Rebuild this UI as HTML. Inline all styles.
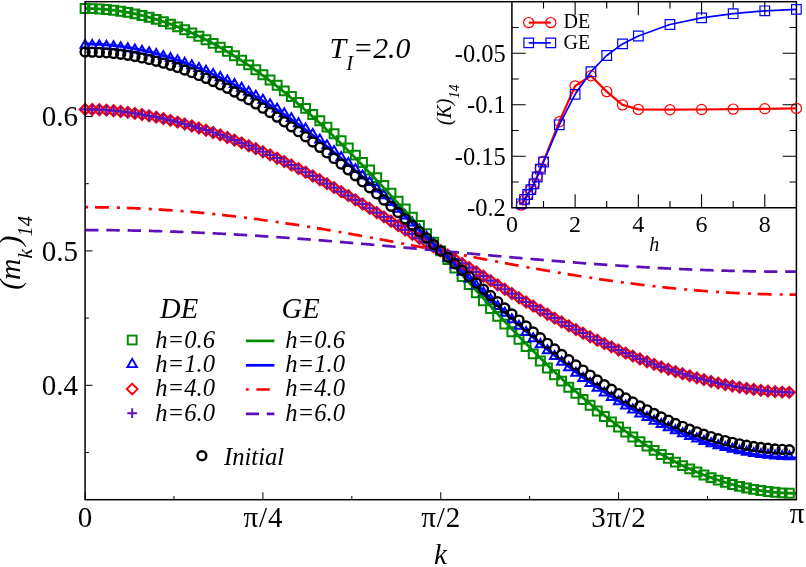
<!DOCTYPE html><html><head><meta charset="utf-8"><title>plot</title><style>html,body{margin:0;padding:0;background:#fff}svg{display:block;will-change:transform}text{font-family:"Liberation Serif",serif;fill:#000}.i{font-style:italic}</style></head><body>
<svg width="806" height="567" viewBox="0 0 806 567">
<rect width="806" height="567" fill="#fff"/>
<g fill="none" stroke-linejoin="miter">
<path d="M80.65 4.05h8.9v8.9h-8.9zM87.76 4.16h8.9v8.9h-8.9zM94.88 4.49h8.9v8.9h-8.9zM101.99 5.03h8.9v8.9h-8.9zM109.1 5.8h8.9v8.9h-8.9zM116.21 6.78h8.9v8.9h-8.9zM123.33 7.97h8.9v8.9h-8.9zM130.44 9.39h8.9v8.9h-8.9zM137.55 11.02h8.9v8.9h-8.9zM144.67 12.87h8.9v8.9h-8.9zM151.78 14.93h8.9v8.9h-8.9zM158.89 17.21h8.9v8.9h-8.9zM166.01 19.7h8.9v8.9h-8.9zM173.12 22.41h8.9v8.9h-8.9zM180.23 25.33h8.9v8.9h-8.9zM187.34 28.45h8.9v8.9h-8.9zM194.46 31.76h8.9v8.9h-8.9zM201.57 35.27h8.9v8.9h-8.9zM208.68 38.97h8.9v8.9h-8.9zM215.8 42.87h8.9v8.9h-8.9zM222.91 46.97h8.9v8.9h-8.9zM230.02 51.26h8.9v8.9h-8.9zM237.14 55.75h8.9v8.9h-8.9zM244.25 60.42h8.9v8.9h-8.9zM251.36 65.27h8.9v8.9h-8.9zM258.47 70.29h8.9v8.9h-8.9zM265.59 75.49h8.9v8.9h-8.9zM272.7 80.85h8.9v8.9h-8.9zM279.81 86.38h8.9v8.9h-8.9zM286.93 92.07h8.9v8.9h-8.9zM294.04 97.92h8.9v8.9h-8.9zM301.15 103.93h8.9v8.9h-8.9zM308.27 110.06h8.9v8.9h-8.9zM315.38 116.25h8.9v8.9h-8.9zM322.49 122.64h8.9v8.9h-8.9zM329.6 129.34h8.9v8.9h-8.9zM336.72 136.31h8.9v8.9h-8.9zM343.83 143.44h8.9v8.9h-8.9zM350.94 150.7h8.9v8.9h-8.9zM358.06 158.09h8.9v8.9h-8.9zM365.17 165.6h8.9v8.9h-8.9zM372.28 173.22h8.9v8.9h-8.9zM379.4 180.94h8.9v8.9h-8.9zM386.51 188.75h8.9v8.9h-8.9zM393.62 196.63h8.9v8.9h-8.9zM400.73 204.61h8.9v8.9h-8.9zM407.85 212.7h8.9v8.9h-8.9zM414.96 220.9h8.9v8.9h-8.9zM422.07 229.2h8.9v8.9h-8.9zM429.19 237.74h8.9v8.9h-8.9zM436.3 246.45h8.9v8.9h-8.9zM443.41 255.16h8.9v8.9h-8.9zM450.53 263.7h8.9v8.9h-8.9zM457.64 272h8.9v8.9h-8.9zM464.75 280.2h8.9v8.9h-8.9zM471.86 288.29h8.9v8.9h-8.9zM478.98 296.27h8.9v8.9h-8.9zM486.09 304.15h8.9v8.9h-8.9zM493.2 311.96h8.9v8.9h-8.9zM500.32 319.68h8.9v8.9h-8.9zM507.43 327.3h8.9v8.9h-8.9zM514.54 334.81h8.9v8.9h-8.9zM521.66 342.2h8.9v8.9h-8.9zM528.77 349.46h8.9v8.9h-8.9zM535.88 356.59h8.9v8.9h-8.9zM542.99 363.56h8.9v8.9h-8.9zM550.11 370.26h8.9v8.9h-8.9zM557.22 376.65h8.9v8.9h-8.9zM564.33 382.84h8.9v8.9h-8.9zM571.45 388.97h8.9v8.9h-8.9zM578.56 394.98h8.9v8.9h-8.9zM585.67 400.83h8.9v8.9h-8.9zM592.79 406.52h8.9v8.9h-8.9zM599.9 412.05h8.9v8.9h-8.9zM607.01 417.41h8.9v8.9h-8.9zM614.12 422.61h8.9v8.9h-8.9zM621.24 427.63h8.9v8.9h-8.9zM628.35 432.48h8.9v8.9h-8.9zM635.46 437.15h8.9v8.9h-8.9zM642.58 441.64h8.9v8.9h-8.9zM649.69 445.93h8.9v8.9h-8.9zM656.8 450.03h8.9v8.9h-8.9zM663.92 453.93h8.9v8.9h-8.9zM671.03 457.63h8.9v8.9h-8.9zM678.14 461.14h8.9v8.9h-8.9zM685.25 464.45h8.9v8.9h-8.9zM692.37 467.57h8.9v8.9h-8.9zM699.48 470.49h8.9v8.9h-8.9zM706.59 473.2h8.9v8.9h-8.9zM713.71 475.69h8.9v8.9h-8.9zM720.82 477.97h8.9v8.9h-8.9zM727.93 480.03h8.9v8.9h-8.9zM735.05 481.88h8.9v8.9h-8.9zM742.16 483.51h8.9v8.9h-8.9zM749.27 484.93h8.9v8.9h-8.9zM756.38 486.12h8.9v8.9h-8.9zM763.5 487.1h8.9v8.9h-8.9zM770.61 487.87h8.9v8.9h-8.9zM777.72 488.41h8.9v8.9h-8.9zM784.84 488.74h8.9v8.9h-8.9z" stroke="#008a00" stroke-width="2"/>
<path d="M85.1 39.88L89.7 47.84L80.5 47.84zM92.21 39.97L96.81 47.94L87.61 47.94zM99.33 40.25L103.93 48.22L94.73 48.22zM106.44 40.72L111.04 48.68L101.84 48.68zM113.55 41.37L118.15 49.33L108.95 49.33zM120.66 42.2L125.26 50.17L116.06 50.17zM127.78 43.22L132.38 51.19L123.18 51.19zM134.89 44.42L139.49 52.38L130.29 52.38zM142 45.79L146.6 53.76L137.4 53.76zM149.12 47.34L153.72 55.31L144.52 55.31zM156.23 49.06L160.83 57.03L151.63 57.03zM163.34 50.95L167.94 58.92L158.74 58.92zM170.46 53.02L175.06 60.98L165.86 60.98zM177.57 55.25L182.17 63.22L172.97 63.22zM184.68 57.66L189.28 65.63L180.08 65.63zM191.79 60.23L196.39 68.19L187.19 68.19zM198.91 62.95L203.51 70.92L194.31 70.92zM206.02 65.83L210.62 73.8L201.42 73.8zM213.13 68.88L217.73 76.84L208.53 76.84zM220.25 72.09L224.85 80.05L215.65 80.05zM227.36 75.47L231.96 83.44L222.76 83.44zM234.47 79.04L239.07 87.01L229.87 87.01zM241.59 82.76L246.19 90.73L236.99 90.73zM248.7 86.63L253.3 94.6L244.1 94.6zM255.81 90.65L260.41 98.62L251.21 98.62zM262.92 94.81L267.52 102.78L258.32 102.78zM270.04 99.14L274.64 107.1L265.44 107.1zM277.15 103.63L281.75 111.59L272.55 111.59zM284.26 108.29L288.86 116.26L279.66 116.26zM291.38 113.15L295.98 121.11L286.78 121.11zM298.49 118.2L303.09 126.17L293.89 126.17zM305.6 123.47L310.2 131.44L301 131.44zM312.72 128.92L317.32 136.89L308.12 136.89zM319.83 134.49L324.43 142.46L315.23 142.46zM326.94 140.19L331.54 148.16L322.34 148.16zM334.05 146.01L338.65 153.98L329.45 153.98zM341.17 151.95L345.77 159.91L336.57 159.91zM348.28 157.99L352.88 165.95L343.68 165.95zM355.39 164.15L359.99 172.12L350.79 172.12zM362.51 170.47L367.11 178.44L357.91 178.44zM369.62 176.93L374.22 184.9L365.02 184.9zM376.73 183.51L381.33 191.48L372.13 191.48zM383.85 190.19L388.45 198.15L379.25 198.15zM390.96 196.93L395.56 204.89L386.36 204.89zM398.07 203.71L402.67 211.68L393.47 211.68zM405.18 210.56L409.78 218.53L400.58 218.53zM412.3 217.47L416.9 225.44L407.7 225.44zM419.41 224.44L424.01 232.41L414.81 232.41zM426.52 231.45L431.12 239.41L421.92 239.41zM433.64 238.5L438.24 246.47L429.04 246.47zM440.75 245.59L445.35 253.56L436.15 253.56zM447.86 252.68L452.46 260.64L443.26 260.64zM454.98 259.73L459.58 267.7L450.38 267.7zM462.09 266.74L466.69 274.7L457.49 274.7zM469.2 273.7L473.8 281.67L464.6 281.67zM476.31 280.62L480.91 288.58L471.71 288.58zM483.43 287.47L488.03 295.44L478.83 295.44zM490.54 294.25L495.14 302.22L485.94 302.22zM497.65 300.99L502.25 308.96L493.05 308.96zM504.77 307.66L509.37 315.63L500.17 315.63zM511.88 314.24L516.48 322.21L507.28 322.21zM518.99 320.71L523.59 328.67L514.39 328.67zM526.11 327.03L530.71 335L521.51 335zM533.22 333.19L537.82 341.16L528.62 341.16zM540.33 339.23L544.93 347.2L535.73 347.2zM547.44 345.16L552.04 353.13L542.84 353.13zM554.56 350.98L559.16 358.95L549.96 358.95zM561.67 356.68L566.27 364.65L557.07 364.65zM568.78 362.26L573.38 370.23L564.18 370.23zM575.9 367.7L580.5 375.67L571.3 375.67zM583.01 372.98L587.61 380.94L578.41 380.94zM590.12 378.03L594.72 386L585.52 386zM597.24 382.88L601.84 390.85L592.64 390.85zM604.35 387.55L608.95 395.52L599.75 395.52zM611.46 392.04L616.06 400.01L606.86 400.01zM618.58 396.36L623.18 404.33L613.98 404.33zM625.69 400.53L630.29 408.5L621.09 408.5zM632.8 404.54L637.4 412.51L628.2 412.51zM639.91 408.41L644.51 416.38L635.31 416.38zM647.03 412.14L651.63 420.11L642.43 420.11zM654.14 415.71L658.74 423.67L649.54 423.67zM661.25 419.09L665.85 427.06L656.65 427.06zM668.37 422.3L672.97 430.27L663.77 430.27zM675.48 425.34L680.08 433.31L670.88 433.31zM682.59 428.23L687.19 436.19L677.99 436.19zM689.7 430.95L694.3 438.92L685.1 438.92zM696.82 433.52L701.42 441.48L692.22 441.48zM703.93 435.92L708.53 443.89L699.33 443.89zM711.04 438.16L715.64 446.13L706.44 446.13zM718.16 440.22L722.76 448.19L713.56 448.19zM725.27 442.12L729.87 450.08L720.67 450.08zM732.38 443.84L736.98 451.81L727.78 451.81zM739.5 445.39L744.1 453.35L734.9 453.35zM746.61 446.76L751.21 454.73L742.01 454.73zM753.72 447.96L758.32 455.92L749.12 455.92zM760.84 448.97L765.44 456.94L756.24 456.94zM767.95 449.81L772.55 457.78L763.35 457.78zM775.06 450.46L779.66 458.43L770.46 458.43zM782.17 450.93L786.77 458.89L777.57 458.89zM789.29 451.21L793.89 459.17L784.69 459.17z" stroke="#0000ff" stroke-width="2"/>
<path d="M85.1 104.08L90.4 109.38L85.1 114.68L79.8 109.38zM92.21 104.16L97.51 109.46L92.21 114.76L86.91 109.46zM99.33 104.41L104.63 109.71L99.33 115.01L94.03 109.71zM106.44 104.83L111.74 110.13L106.44 115.43L101.14 110.13zM113.55 105.41L118.85 110.71L113.55 116.01L108.25 110.71zM120.66 106.16L125.96 111.46L120.66 116.76L115.36 111.46zM127.78 107.06L133.08 112.36L127.78 117.66L122.48 112.36zM134.89 108.1L140.19 113.4L134.89 118.7L129.59 113.4zM142 109.23L147.3 114.53L142 119.83L136.7 114.53zM149.12 110.48L154.42 115.78L149.12 121.08L143.82 115.78zM156.23 111.87L161.53 117.17L156.23 122.47L150.93 117.17zM163.34 113.39L168.64 118.69L163.34 123.99L158.04 118.69zM170.46 115.04L175.76 120.34L170.46 125.64L165.16 120.34zM177.57 116.81L182.87 122.11L177.57 127.41L172.27 122.11zM184.68 118.69L189.98 123.99L184.68 129.29L179.38 123.99zM191.79 120.67L197.09 125.97L191.79 131.27L186.49 125.97zM198.91 122.75L204.21 128.05L198.91 133.35L193.61 128.05zM206.02 124.92L211.32 130.22L206.02 135.52L200.72 130.22zM213.13 127.21L218.43 132.51L213.13 137.81L207.83 132.51zM220.25 129.63L225.55 134.93L220.25 140.23L214.95 134.93zM227.36 132.15L232.66 137.45L227.36 142.75L222.06 137.45zM234.47 134.8L239.77 140.1L234.47 145.4L229.17 140.1zM241.59 137.55L246.89 142.85L241.59 148.15L236.29 142.85zM248.7 140.41L254 145.71L248.7 151.01L243.4 145.71zM255.81 143.38L261.11 148.68L255.81 153.98L250.51 148.68zM262.92 146.46L268.22 151.76L262.92 157.06L257.62 151.76zM270.04 149.63L275.34 154.93L270.04 160.23L264.74 154.93zM277.15 152.91L282.45 158.21L277.15 163.51L271.85 158.21zM284.26 156.28L289.56 161.58L284.26 166.88L278.96 161.58zM291.38 159.74L296.68 165.04L291.38 170.34L286.08 165.04zM298.49 163.29L303.79 168.59L298.49 173.89L293.19 168.59zM305.6 166.93L310.9 172.23L305.6 177.53L300.3 172.23zM312.72 170.65L318.02 175.95L312.72 181.25L307.42 175.95zM319.83 174.45L325.13 179.75L319.83 185.05L314.53 179.75zM326.94 178.33L332.24 183.63L326.94 188.93L321.64 183.63zM334.05 182.28L339.35 187.58L334.05 192.88L328.75 187.58zM341.17 186.3L346.47 191.6L341.17 196.9L335.87 191.6zM348.28 190.38L353.58 195.68L348.28 200.98L342.98 195.68zM355.39 194.52L360.69 199.82L355.39 205.12L350.09 199.82zM362.51 198.71L367.81 204.01L362.51 209.31L357.21 204.01zM369.62 202.95L374.92 208.25L369.62 213.55L364.32 208.25zM376.73 207.24L382.03 212.54L376.73 217.84L371.43 212.54zM383.85 211.56L389.15 216.86L383.85 222.16L378.55 216.86zM390.96 215.92L396.26 221.22L390.96 226.52L385.66 221.22zM398.07 220.3L403.37 225.6L398.07 230.9L392.77 225.6zM405.18 224.66L410.48 229.96L405.18 235.26L399.88 229.96zM412.3 228.92L417.6 234.22L412.3 239.52L407 234.22zM419.41 233.11L424.71 238.41L419.41 243.71L414.11 238.41zM426.52 237.32L431.82 242.62L426.52 247.92L421.22 242.62zM433.64 241.48L438.94 246.78L433.64 252.08L428.34 246.78zM440.75 245.6L446.05 250.9L440.75 256.2L435.45 250.9zM447.86 249.72L453.16 255.02L447.86 260.32L442.56 255.02zM454.98 253.88L460.28 259.18L454.98 264.48L449.68 259.18zM462.09 258.09L467.39 263.39L462.09 268.69L456.79 263.39zM469.2 262.28L474.5 267.58L469.2 272.88L463.9 267.58zM476.31 266.54L481.61 271.84L476.31 277.14L471.01 271.84zM483.43 270.9L488.73 276.2L483.43 281.5L478.13 276.2zM490.54 275.28L495.84 280.58L490.54 285.88L485.24 280.58zM497.65 279.64L502.95 284.94L497.65 290.24L492.35 284.94zM504.77 283.96L510.07 289.26L504.77 294.56L499.47 289.26zM511.88 288.25L517.18 293.55L511.88 298.85L506.58 293.55zM518.99 292.49L524.29 297.79L518.99 303.09L513.69 297.79zM526.11 296.68L531.41 301.98L526.11 307.28L520.81 301.98zM533.22 300.82L538.52 306.12L533.22 311.42L527.92 306.12zM540.33 304.9L545.63 310.2L540.33 315.5L535.03 310.2zM547.44 308.92L552.74 314.22L547.44 319.52L542.14 314.22zM554.56 312.87L559.86 318.17L554.56 323.47L549.26 318.17zM561.67 316.75L566.97 322.05L561.67 327.35L556.37 322.05zM568.78 320.55L574.08 325.85L568.78 331.15L563.48 325.85zM575.9 324.27L581.2 329.57L575.9 334.87L570.6 329.57zM583.01 327.91L588.31 333.21L583.01 338.51L577.71 333.21zM590.12 331.46L595.42 336.76L590.12 342.06L584.82 336.76zM597.24 334.92L602.54 340.22L597.24 345.52L591.94 340.22zM604.35 338.29L609.65 343.59L604.35 348.89L599.05 343.59zM611.46 341.57L616.76 346.87L611.46 352.17L606.16 346.87zM618.58 344.74L623.88 350.04L618.58 355.34L613.28 350.04zM625.69 347.82L630.99 353.12L625.69 358.42L620.39 353.12zM632.8 350.79L638.1 356.09L632.8 361.39L627.5 356.09zM639.91 353.65L645.21 358.95L639.91 364.25L634.61 358.95zM647.03 356.4L652.33 361.7L647.03 367L641.73 361.7zM654.14 359.05L659.44 364.35L654.14 369.65L648.84 364.35zM661.25 361.57L666.55 366.87L661.25 372.17L655.95 366.87zM668.37 363.99L673.67 369.29L668.37 374.59L663.07 369.29zM675.48 366.28L680.78 371.58L675.48 376.88L670.18 371.58zM682.59 368.45L687.89 373.75L682.59 379.05L677.29 373.75zM689.7 370.53L695 375.83L689.7 381.13L684.4 375.83zM696.82 372.51L702.12 377.81L696.82 383.11L691.52 377.81zM703.93 374.39L709.23 379.69L703.93 384.99L698.63 379.69zM711.04 376.16L716.34 381.46L711.04 386.76L705.74 381.46zM718.16 377.81L723.46 383.11L718.16 388.41L712.86 383.11zM725.27 379.33L730.57 384.63L725.27 389.93L719.97 384.63zM732.38 380.72L737.68 386.02L732.38 391.32L727.08 386.02zM739.5 381.97L744.8 387.27L739.5 392.57L734.2 387.27zM746.61 383.1L751.91 388.4L746.61 393.7L741.31 388.4zM753.72 384.14L759.02 389.44L753.72 394.74L748.42 389.44zM760.84 385.04L766.13 390.34L760.84 395.64L755.54 390.34zM767.95 385.79L773.25 391.09L767.95 396.39L762.65 391.09zM775.06 386.37L780.36 391.67L775.06 396.97L769.76 391.67zM782.17 386.79L787.47 392.09L782.17 397.39L776.87 392.09zM789.29 387.04L794.59 392.34L789.29 397.64L783.99 392.34z" stroke="#ff0000" stroke-width="2.3"/>
<path d="M79.9 109.38h10.4M85.1 104.18v10.4M87.01 109.46h10.4M92.21 104.26v10.4M94.13 109.71h10.4M99.33 104.51v10.4M101.24 110.13h10.4M106.44 104.93v10.4M108.35 110.71h10.4M113.55 105.51v10.4M115.46 111.46h10.4M120.66 106.26v10.4M122.58 112.36h10.4M127.78 107.16v10.4M129.69 113.4h10.4M134.89 108.2v10.4M136.8 114.53h10.4M142 109.33v10.4M143.92 115.78h10.4M149.12 110.58v10.4M151.03 117.17h10.4M156.23 111.97v10.4M158.14 118.69h10.4M163.34 113.49v10.4M165.26 120.34h10.4M170.46 115.14v10.4M172.37 122.11h10.4M177.57 116.91v10.4M179.48 123.99h10.4M184.68 118.79v10.4M186.59 125.97h10.4M191.79 120.77v10.4M193.71 128.05h10.4M198.91 122.85v10.4M200.82 130.22h10.4M206.02 125.02v10.4M207.93 132.51h10.4M213.13 127.31v10.4M215.05 134.93h10.4M220.25 129.73v10.4M222.16 137.45h10.4M227.36 132.25v10.4M229.27 140.1h10.4M234.47 134.9v10.4M236.39 142.85h10.4M241.59 137.65v10.4M243.5 145.71h10.4M248.7 140.51v10.4M250.61 148.68h10.4M255.81 143.48v10.4M257.72 151.76h10.4M262.92 146.56v10.4M264.84 154.93h10.4M270.04 149.73v10.4M271.95 158.21h10.4M277.15 153.01v10.4M279.06 161.58h10.4M284.26 156.38v10.4M286.18 165.04h10.4M291.38 159.84v10.4M293.29 168.59h10.4M298.49 163.39v10.4M300.4 172.23h10.4M305.6 167.03v10.4M307.52 175.95h10.4M312.72 170.75v10.4M314.63 179.75h10.4M319.83 174.55v10.4M321.74 183.63h10.4M326.94 178.43v10.4M328.85 187.58h10.4M334.05 182.38v10.4M335.97 191.6h10.4M341.17 186.4v10.4M343.08 195.68h10.4M348.28 190.48v10.4M350.19 199.82h10.4M355.39 194.62v10.4M357.31 204.01h10.4M362.51 198.81v10.4M364.42 208.25h10.4M369.62 203.05v10.4M371.53 212.54h10.4M376.73 207.34v10.4M378.65 216.86h10.4M383.85 211.66v10.4M385.76 221.22h10.4M390.96 216.02v10.4M392.87 225.6h10.4M398.07 220.4v10.4M399.98 229.96h10.4M405.18 224.76v10.4M407.1 234.22h10.4M412.3 229.02v10.4M414.21 238.41h10.4M419.41 233.21v10.4M421.32 242.62h10.4M426.52 237.42v10.4M428.44 246.78h10.4M433.64 241.58v10.4M435.55 250.9h10.4M440.75 245.7v10.4M442.66 255.02h10.4M447.86 249.82v10.4M449.78 259.18h10.4M454.98 253.98v10.4M456.89 263.39h10.4M462.09 258.19v10.4M464 267.58h10.4M469.2 262.38v10.4M471.11 271.84h10.4M476.31 266.64v10.4M478.23 276.2h10.4M483.43 271v10.4M485.34 280.58h10.4M490.54 275.38v10.4M492.45 284.94h10.4M497.65 279.74v10.4M499.57 289.26h10.4M504.77 284.06v10.4M506.68 293.55h10.4M511.88 288.35v10.4M513.79 297.79h10.4M518.99 292.59v10.4M520.91 301.98h10.4M526.11 296.78v10.4M528.02 306.12h10.4M533.22 300.92v10.4M535.13 310.2h10.4M540.33 305v10.4M542.24 314.22h10.4M547.44 309.02v10.4M549.36 318.17h10.4M554.56 312.97v10.4M556.47 322.05h10.4M561.67 316.85v10.4M563.58 325.85h10.4M568.78 320.65v10.4M570.7 329.57h10.4M575.9 324.37v10.4M577.81 333.21h10.4M583.01 328.01v10.4M584.92 336.76h10.4M590.12 331.56v10.4M592.04 340.22h10.4M597.24 335.02v10.4M599.15 343.59h10.4M604.35 338.39v10.4M606.26 346.87h10.4M611.46 341.67v10.4M613.38 350.04h10.4M618.58 344.84v10.4M620.49 353.12h10.4M625.69 347.92v10.4M627.6 356.09h10.4M632.8 350.89v10.4M634.71 358.95h10.4M639.91 353.75v10.4M641.83 361.7h10.4M647.03 356.5v10.4M648.94 364.35h10.4M654.14 359.15v10.4M656.05 366.87h10.4M661.25 361.67v10.4M663.17 369.29h10.4M668.37 364.09v10.4M670.28 371.58h10.4M675.48 366.38v10.4M677.39 373.75h10.4M682.59 368.55v10.4M684.5 375.83h10.4M689.7 370.63v10.4M691.62 377.81h10.4M696.82 372.61v10.4M698.73 379.69h10.4M703.93 374.49v10.4M705.84 381.46h10.4M711.04 376.26v10.4M712.96 383.11h10.4M718.16 377.91v10.4M720.07 384.63h10.4M725.27 379.43v10.4M727.18 386.02h10.4M732.38 380.82v10.4M734.3 387.27h10.4M739.5 382.07v10.4M741.41 388.4h10.4M746.61 383.2v10.4M748.52 389.44h10.4M753.72 384.24v10.4M755.63 390.34h10.4M760.84 385.14v10.4M762.75 391.09h10.4M767.95 385.89v10.4M769.86 391.67h10.4M775.06 386.47v10.4M776.97 392.09h10.4M782.17 386.89v10.4M784.09 392.34h10.4M789.29 387.14v10.4" stroke="#5c10b8" stroke-width="2.2"/>
<path d="M85.1 8.5 L86.88 8.51 L88.66 8.53 L90.43 8.57 L92.21 8.61 L93.99 8.67 L95.77 8.75 L97.55 8.84 L99.33 8.94 L101.1 9.06 L102.88 9.18 L104.66 9.33 L106.44 9.48 L108.22 9.65 L110 9.84 L111.77 10.04 L113.55 10.25 L115.33 10.47 L117.11 10.71 L118.89 10.96 L120.66 11.23 L122.44 11.51 L124.22 11.8 L126 12.1 L127.78 12.42 L129.56 12.76 L131.33 13.1 L133.11 13.46 L134.89 13.84 L136.67 14.23 L138.45 14.63 L140.23 15.04 L142 15.47 L143.78 15.91 L145.56 16.37 L147.34 16.84 L149.12 17.32 L150.9 17.81 L152.67 18.32 L154.45 18.85 L156.23 19.38 L158.01 19.93 L159.79 20.49 L161.56 21.07 L163.34 21.66 L165.12 22.26 L166.9 22.88 L168.68 23.51 L170.46 24.15 L172.23 24.81 L174.01 25.48 L175.79 26.17 L177.57 26.86 L179.35 27.57 L181.13 28.3 L182.9 29.03 L184.68 29.78 L186.46 30.55 L188.24 31.32 L190.02 32.11 L191.79 32.92 L193.57 33.73 L195.35 34.56 L197.13 35.41 L198.91 36.26 L200.69 37.13 L202.46 38.01 L204.24 38.91 L206.02 39.82 L207.8 40.74 L209.58 41.67 L211.36 42.62 L213.13 43.58 L214.91 44.55 L216.69 45.54 L218.47 46.54 L220.25 47.55 L222.03 48.57 L223.8 49.61 L225.58 50.66 L227.36 51.72 L229.14 52.8 L230.92 53.88 L232.69 54.98 L234.47 56.1 L236.25 57.22 L238.03 58.36 L239.81 59.51 L241.59 60.67 L243.36 61.85 L245.14 63.04 L246.92 64.23 L248.7 65.45 L250.48 66.67 L252.26 67.91 L254.03 69.15 L255.81 70.42 L257.59 71.69 L259.37 72.97 L261.15 74.27 L262.92 75.57 L264.7 76.89 L266.48 78.23 L268.26 79.57 L270.04 80.92 L271.82 82.29 L273.59 83.67 L275.37 85.06 L277.15 86.46 L278.93 87.87 L280.71 89.29 L282.49 90.72 L284.26 92.17 L286.04 93.62 L287.82 95.09 L289.6 96.57 L291.38 98.06 L293.16 99.55 L294.93 101.06 L296.71 102.58 L298.49 104.12 L300.27 105.66 L302.05 107.21 L303.82 108.77 L305.6 110.34 L307.38 111.92 L309.16 113.51 L310.94 115.12 L312.72 116.73 L314.49 118.35 L316.27 119.98 L318.05 121.62 L319.83 123.27 L321.61 124.93 L323.39 126.59 L325.16 128.27 L326.94 129.96 L328.72 131.65 L330.5 133.35 L332.28 135.07 L334.05 136.79 L335.83 138.52 L337.61 140.25 L339.39 142 L341.17 143.75 L342.95 145.52 L344.72 147.28 L346.5 149.06 L348.28 150.85 L350.06 152.64 L351.84 154.44 L353.62 156.25 L355.39 158.06 L357.17 159.88 L358.95 161.71 L360.73 163.55 L362.51 165.39 L364.29 167.24 L366.06 169.09 L367.84 170.95 L369.62 172.82 L371.4 174.69 L373.18 176.57 L374.95 178.46 L376.73 180.35 L378.51 182.24 L380.29 184.15 L382.07 186.05 L383.85 187.96 L385.62 189.88 L387.4 191.8 L389.18 193.73 L390.96 195.66 L392.74 197.59 L394.52 199.53 L396.29 201.47 L398.07 203.42 L399.85 205.37 L401.63 207.32 L403.41 209.28 L405.18 211.24 L406.96 213.2 L408.74 215.17 L410.52 217.14 L412.3 219.11 L414.08 221.09 L415.85 223.06 L417.63 225.04 L419.41 227.02 L421.19 229.01 L422.97 230.99 L424.75 232.98 L426.52 234.97 L428.3 236.95 L430.08 238.94 L431.86 240.94 L433.64 242.93 L435.42 244.92 L437.19 246.91 L438.97 248.91 L440.75 250.9 L442.53 252.89 L444.31 254.89 L446.08 256.88 L447.86 258.87 L449.64 260.86 L451.42 262.86 L453.2 264.85 L454.98 266.83 L456.75 268.82 L458.53 270.81 L460.31 272.79 L462.09 274.78 L463.87 276.76 L465.65 278.74 L467.42 280.71 L469.2 282.69 L470.98 284.66 L472.76 286.63 L474.54 288.6 L476.31 290.56 L478.09 292.52 L479.87 294.48 L481.65 296.43 L483.43 298.38 L485.21 300.33 L486.98 302.27 L488.76 304.21 L490.54 306.14 L492.32 308.07 L494.1 310 L495.88 311.92 L497.65 313.84 L499.43 315.75 L501.21 317.65 L502.99 319.56 L504.77 321.45 L506.55 323.34 L508.32 325.23 L510.1 327.11 L511.88 328.98 L513.66 330.85 L515.44 332.71 L517.21 334.56 L518.99 336.41 L520.77 338.25 L522.55 340.09 L524.33 341.92 L526.11 343.74 L527.88 345.55 L529.66 347.36 L531.44 349.16 L533.22 350.95 L535 352.74 L536.78 354.52 L538.55 356.28 L540.33 358.05 L542.11 359.8 L543.89 361.55 L545.67 363.28 L547.44 365.01 L549.22 366.73 L551 368.45 L552.78 370.15 L554.56 371.84 L556.34 373.53 L558.11 375.21 L559.89 376.87 L561.67 378.53 L563.45 380.18 L565.23 381.82 L567.01 383.45 L568.78 385.07 L570.56 386.68 L572.34 388.29 L574.12 389.88 L575.9 391.46 L577.68 393.03 L579.45 394.59 L581.23 396.14 L583.01 397.68 L584.79 399.22 L586.57 400.74 L588.34 402.25 L590.12 403.74 L591.9 405.23 L593.68 406.71 L595.46 408.18 L597.24 409.63 L599.01 411.08 L600.79 412.51 L602.57 413.93 L604.35 415.34 L606.13 416.74 L607.91 418.13 L609.68 419.51 L611.46 420.88 L613.24 422.23 L615.02 423.57 L616.8 424.91 L618.58 426.23 L620.35 427.53 L622.13 428.83 L623.91 430.11 L625.69 431.38 L627.47 432.65 L629.24 433.89 L631.02 435.13 L632.8 436.35 L634.58 437.57 L636.36 438.76 L638.14 439.95 L639.91 441.13 L641.69 442.29 L643.47 443.44 L645.25 444.58 L647.03 445.7 L648.81 446.82 L650.58 447.92 L652.36 449 L654.14 450.08 L655.92 451.14 L657.7 452.19 L659.47 453.23 L661.25 454.25 L663.03 455.26 L664.81 456.26 L666.59 457.25 L668.37 458.22 L670.14 459.18 L671.92 460.13 L673.7 461.06 L675.48 461.98 L677.26 462.89 L679.04 463.79 L680.81 464.67 L682.59 465.54 L684.37 466.39 L686.15 467.24 L687.93 468.07 L689.7 468.88 L691.48 469.69 L693.26 470.48 L695.04 471.25 L696.82 472.02 L698.6 472.77 L700.37 473.5 L702.15 474.23 L703.93 474.94 L705.71 475.63 L707.49 476.32 L709.27 476.99 L711.04 477.65 L712.82 478.29 L714.6 478.92 L716.38 479.54 L718.16 480.14 L719.94 480.73 L721.71 481.31 L723.49 481.87 L725.27 482.42 L727.05 482.95 L728.83 483.48 L730.6 483.99 L732.38 484.48 L734.16 484.96 L735.94 485.43 L737.72 485.89 L739.5 486.33 L741.27 486.76 L743.05 487.17 L744.83 487.57 L746.61 487.96 L748.39 488.34 L750.17 488.7 L751.94 489.04 L753.72 489.38 L755.5 489.7 L757.28 490 L759.06 490.29 L760.84 490.57 L762.61 490.84 L764.39 491.09 L766.17 491.33 L767.95 491.55 L769.73 491.76 L771.5 491.96 L773.28 492.15 L775.06 492.32 L776.84 492.47 L778.62 492.62 L780.4 492.74 L782.17 492.86 L783.95 492.96 L785.73 493.05 L787.51 493.13 L789.29 493.19 L791.07 493.23 L792.84 493.27 L794.62 493.29 L796.4 493.3" stroke="#008a00" stroke-width="2.8"/>
<path d="M85.1 43.99 L86.88 43.99 L88.66 44.01 L90.43 44.04 L92.21 44.09 L93.99 44.14 L95.77 44.21 L97.55 44.29 L99.33 44.38 L101.1 44.49 L102.88 44.6 L104.66 44.73 L106.44 44.88 L108.22 45.03 L110 45.2 L111.77 45.38 L113.55 45.57 L115.33 45.77 L117.11 45.99 L118.89 46.21 L120.66 46.45 L122.44 46.7 L124.22 46.96 L126 47.24 L127.78 47.52 L129.56 47.81 L131.33 48.11 L133.11 48.43 L134.89 48.76 L136.67 49.1 L138.45 49.45 L140.23 49.81 L142 50.18 L143.78 50.57 L145.56 50.97 L147.34 51.38 L149.12 51.8 L150.9 52.23 L152.67 52.68 L154.45 53.13 L156.23 53.6 L158.01 54.08 L159.79 54.57 L161.56 55.07 L163.34 55.59 L165.12 56.11 L166.9 56.65 L168.68 57.2 L170.46 57.76 L172.23 58.33 L174.01 58.92 L175.79 59.51 L177.57 60.12 L179.35 60.74 L181.13 61.37 L182.9 62.01 L184.68 62.66 L186.46 63.31 L188.24 63.98 L190.02 64.66 L191.79 65.35 L193.57 66.04 L195.35 66.75 L197.13 67.46 L198.91 68.19 L200.69 68.92 L202.46 69.66 L204.24 70.41 L206.02 71.18 L207.8 71.95 L209.58 72.73 L211.36 73.52 L213.13 74.32 L214.91 75.13 L216.69 75.95 L218.47 76.79 L220.25 77.63 L222.03 78.48 L223.8 79.34 L225.58 80.22 L227.36 81.1 L229.14 82 L230.92 82.9 L232.69 83.82 L234.47 84.76 L236.25 85.7 L238.03 86.65 L239.81 87.6 L241.59 88.57 L243.36 89.55 L245.14 90.53 L246.92 91.52 L248.7 92.53 L250.48 93.54 L252.26 94.56 L254.03 95.58 L255.81 96.62 L257.59 97.67 L259.37 98.73 L261.15 99.79 L262.92 100.87 L264.7 101.95 L266.48 103.04 L268.26 104.15 L270.04 105.26 L271.82 106.38 L273.59 107.52 L275.37 108.66 L277.15 109.81 L278.93 110.98 L280.71 112.15 L282.49 113.34 L284.26 114.53 L286.04 115.74 L287.82 116.95 L289.6 118.18 L291.38 119.42 L293.16 120.68 L294.93 121.94 L296.71 123.22 L298.49 124.5 L300.27 125.81 L302.05 127.12 L303.82 128.45 L305.6 129.78 L307.38 131.13 L309.16 132.49 L310.94 133.86 L312.72 135.23 L314.49 136.61 L316.27 138 L318.05 139.4 L319.83 140.81 L321.61 142.22 L323.39 143.64 L325.16 145.07 L326.94 146.51 L328.72 147.95 L330.5 149.4 L332.28 150.86 L334.05 152.33 L335.83 153.8 L337.61 155.28 L339.39 156.77 L341.17 158.26 L342.95 159.76 L344.72 161.27 L346.5 162.78 L348.28 164.3 L350.06 165.82 L351.84 167.36 L353.62 168.9 L355.39 170.45 L357.17 172.02 L358.95 173.59 L360.73 175.16 L362.51 176.75 L364.29 178.34 L366.06 179.95 L367.84 181.55 L369.62 183.17 L371.4 184.79 L373.18 186.42 L374.95 188.06 L376.73 189.7 L378.51 191.34 L380.29 192.99 L382.07 194.65 L383.85 196.3 L385.62 197.97 L387.4 199.63 L389.18 201.3 L390.96 202.98 L392.74 204.65 L394.52 206.33 L396.29 208.01 L398.07 209.69 L399.85 211.38 L401.63 213.07 L403.41 214.76 L405.18 216.46 L406.96 218.16 L408.74 219.86 L410.52 221.57 L412.3 223.28 L414.08 224.99 L415.85 226.7 L417.63 228.42 L419.41 230.14 L421.19 231.86 L422.97 233.58 L424.75 235.31 L426.52 237.03 L428.3 238.76 L430.08 240.49 L431.86 242.22 L433.64 243.96 L435.42 245.69 L437.19 247.43 L438.97 249.16 L440.75 250.9 L442.53 252.64 L444.31 254.37 L446.08 256.11 L447.86 257.84 L449.64 259.58 L451.42 261.31 L453.2 263.04 L454.98 264.77 L456.75 266.49 L458.53 268.22 L460.31 269.94 L462.09 271.66 L463.87 273.38 L465.65 275.1 L467.42 276.81 L469.2 278.52 L470.98 280.23 L472.76 281.94 L474.54 283.64 L476.31 285.34 L478.09 287.04 L479.87 288.73 L481.65 290.42 L483.43 292.11 L485.21 293.79 L486.98 295.47 L488.76 297.15 L490.54 298.82 L492.32 300.5 L494.1 302.17 L495.88 303.83 L497.65 305.5 L499.43 307.15 L501.21 308.81 L502.99 310.46 L504.77 312.1 L506.55 313.74 L508.32 315.38 L510.1 317.01 L511.88 318.63 L513.66 320.25 L515.44 321.85 L517.21 323.46 L518.99 325.05 L520.77 326.64 L522.55 328.21 L524.33 329.78 L526.11 331.35 L527.88 332.9 L529.66 334.44 L531.44 335.98 L533.22 337.5 L535 339.02 L536.78 340.53 L538.55 342.04 L540.33 343.54 L542.11 345.03 L543.89 346.52 L545.67 348 L547.44 349.47 L549.22 350.94 L551 352.4 L552.78 353.85 L554.56 355.29 L556.34 356.73 L558.11 358.16 L559.89 359.58 L561.67 360.99 L563.45 362.4 L565.23 363.8 L567.01 365.19 L568.78 366.57 L570.56 367.94 L572.34 369.31 L574.12 370.67 L575.9 372.02 L577.68 373.35 L579.45 374.68 L581.23 375.99 L583.01 377.3 L584.79 378.58 L586.57 379.86 L588.34 381.12 L590.12 382.38 L591.9 383.62 L593.68 384.85 L595.46 386.06 L597.24 387.27 L599.01 388.46 L600.79 389.65 L602.57 390.82 L604.35 391.99 L606.13 393.14 L607.91 394.28 L609.68 395.42 L611.46 396.54 L613.24 397.65 L615.02 398.76 L616.8 399.85 L618.58 400.93 L620.35 402.01 L622.13 403.07 L623.91 404.13 L625.69 405.18 L627.47 406.22 L629.24 407.24 L631.02 408.26 L632.8 409.27 L634.58 410.28 L636.36 411.27 L638.14 412.25 L639.91 413.23 L641.69 414.2 L643.47 415.15 L645.25 416.1 L647.03 417.04 L648.81 417.98 L650.58 418.9 L652.36 419.8 L654.14 420.7 L655.92 421.58 L657.7 422.46 L659.47 423.32 L661.25 424.17 L663.03 425.01 L664.81 425.85 L666.59 426.67 L668.37 427.48 L670.14 428.28 L671.92 429.07 L673.7 429.85 L675.48 430.62 L677.26 431.39 L679.04 432.14 L680.81 432.88 L682.59 433.61 L684.37 434.34 L686.15 435.05 L687.93 435.76 L689.7 436.45 L691.48 437.14 L693.26 437.82 L695.04 438.49 L696.82 439.14 L698.6 439.79 L700.37 440.43 L702.15 441.06 L703.93 441.68 L705.71 442.29 L707.49 442.88 L709.27 443.47 L711.04 444.04 L712.82 444.6 L714.6 445.15 L716.38 445.69 L718.16 446.21 L719.94 446.73 L721.71 447.23 L723.49 447.72 L725.27 448.2 L727.05 448.67 L728.83 449.12 L730.6 449.57 L732.38 450 L734.16 450.42 L735.94 450.83 L737.72 451.23 L739.5 451.62 L741.27 451.99 L743.05 452.35 L744.83 452.7 L746.61 453.04 L748.39 453.37 L750.17 453.69 L751.94 453.99 L753.72 454.28 L755.5 454.56 L757.28 454.84 L759.06 455.1 L760.84 455.35 L762.61 455.59 L764.39 455.81 L766.17 456.03 L767.95 456.23 L769.73 456.42 L771.5 456.6 L773.28 456.77 L775.06 456.92 L776.84 457.07 L778.62 457.2 L780.4 457.31 L782.17 457.42 L783.95 457.51 L785.73 457.59 L787.51 457.66 L789.29 457.71 L791.07 457.76 L792.84 457.79 L794.62 457.81 L796.4 457.81" stroke="#0000ff" stroke-width="2.8"/>
<path d="M85.1 207.21 L86.88 207.22 L88.66 207.22 L90.43 207.23 L92.21 207.24 L93.99 207.25 L95.77 207.26 L97.55 207.28 L99.33 207.3 L101.1 207.32 L102.88 207.35 L104.66 207.38 L106.44 207.41 L108.22 207.44 L110 207.48 L111.77 207.52 L113.55 207.56 L115.33 207.6 L117.11 207.65 L118.89 207.7 L120.66 207.75 L122.44 207.81 L124.22 207.86 L126 207.92 L127.78 207.99 L129.56 208.05 L131.33 208.12 L133.11 208.19 L134.89 208.26 L136.67 208.34 L138.45 208.42 L140.23 208.5 L142 208.58 L143.78 208.67 L145.56 208.76 L147.34 208.85 L149.12 208.94 L150.9 209.04 L152.67 209.14 L154.45 209.24 L156.23 209.35 L158.01 209.45 L159.79 209.56 L161.56 209.68 L163.34 209.79 L165.12 209.91 L166.9 210.03 L168.68 210.15 L170.46 210.27 L172.23 210.4 L174.01 210.53 L175.79 210.66 L177.57 210.8 L179.35 210.94 L181.13 211.08 L182.9 211.22 L184.68 211.36 L186.46 211.51 L188.24 211.66 L190.02 211.81 L191.79 211.96 L193.57 212.12 L195.35 212.28 L197.13 212.44 L198.91 212.61 L200.69 212.77 L202.46 212.94 L204.24 213.11 L206.02 213.28 L207.8 213.46 L209.58 213.64 L211.36 213.82 L213.13 214 L214.91 214.18 L216.69 214.37 L218.47 214.56 L220.25 214.75 L222.03 214.95 L223.8 215.14 L225.58 215.34 L227.36 215.54 L229.14 215.74 L230.92 215.95 L232.69 216.15 L234.47 216.36 L236.25 216.57 L238.03 216.79 L239.81 217 L241.59 217.22 L243.36 217.44 L245.14 217.66 L246.92 217.89 L248.7 218.11 L250.48 218.34 L252.26 218.57 L254.03 218.8 L255.81 219.03 L257.59 219.27 L259.37 219.51 L261.15 219.75 L262.92 219.99 L264.7 220.23 L266.48 220.48 L268.26 220.72 L270.04 220.97 L271.82 221.22 L273.59 221.48 L275.37 221.73 L277.15 221.99 L278.93 222.25 L280.71 222.51 L282.49 222.77 L284.26 223.03 L286.04 223.3 L287.82 223.56 L289.6 223.83 L291.38 224.1 L293.16 224.37 L294.93 224.65 L296.71 224.92 L298.49 225.2 L300.27 225.48 L302.05 225.76 L303.82 226.04 L305.6 226.32 L307.38 226.61 L309.16 226.89 L310.94 227.18 L312.72 227.47 L314.49 227.76 L316.27 228.05 L318.05 228.34 L319.83 228.64 L321.61 228.94 L323.39 229.23 L325.16 229.53 L326.94 229.83 L328.72 230.13 L330.5 230.44 L332.28 230.74 L334.05 231.04 L335.83 231.35 L337.61 231.66 L339.39 231.97 L341.17 232.28 L342.95 232.59 L344.72 232.9 L346.5 233.22 L348.28 233.53 L350.06 233.85 L351.84 234.16 L353.62 234.48 L355.39 234.8 L357.17 235.12 L358.95 235.44 L360.73 235.76 L362.51 236.08 L364.29 236.41 L366.06 236.73 L367.84 237.06 L369.62 237.38 L371.4 237.71 L373.18 238.04 L374.95 238.37 L376.73 238.7 L378.51 239.03 L380.29 239.36 L382.07 239.69 L383.85 240.02 L385.62 240.35 L387.4 240.69 L389.18 241.02 L390.96 241.36 L392.74 241.69 L394.52 242.03 L396.29 242.37 L398.07 242.7 L399.85 243.04 L401.63 243.38 L403.41 243.72 L405.18 244.06 L406.96 244.4 L408.74 244.74 L410.52 245.08 L412.3 245.42 L414.08 245.76 L415.85 246.1 L417.63 246.44 L419.41 246.78 L421.19 247.13 L422.97 247.47 L424.75 247.81 L426.52 248.15 L428.3 248.5 L430.08 248.84 L431.86 249.18 L433.64 249.53 L435.42 249.87 L437.19 250.21 L438.97 250.56 L440.75 250.9 L442.53 251.24 L444.31 251.59 L446.08 251.93 L447.86 252.27 L449.64 252.62 L451.42 252.96 L453.2 253.3 L454.98 253.65 L456.75 253.99 L458.53 254.33 L460.31 254.67 L462.09 255.02 L463.87 255.36 L465.65 255.7 L467.42 256.04 L469.2 256.38 L470.98 256.72 L472.76 257.06 L474.54 257.4 L476.31 257.74 L478.09 258.08 L479.87 258.42 L481.65 258.76 L483.43 259.1 L485.21 259.43 L486.98 259.77 L488.76 260.11 L490.54 260.44 L492.32 260.78 L494.1 261.11 L495.88 261.45 L497.65 261.78 L499.43 262.11 L501.21 262.44 L502.99 262.77 L504.77 263.1 L506.55 263.43 L508.32 263.76 L510.1 264.09 L511.88 264.42 L513.66 264.74 L515.44 265.07 L517.21 265.39 L518.99 265.72 L520.77 266.04 L522.55 266.36 L524.33 266.68 L526.11 267 L527.88 267.32 L529.66 267.64 L531.44 267.95 L533.22 268.27 L535 268.58 L536.78 268.9 L538.55 269.21 L540.33 269.52 L542.11 269.83 L543.89 270.14 L545.67 270.45 L547.44 270.76 L549.22 271.06 L551 271.36 L552.78 271.67 L554.56 271.97 L556.34 272.27 L558.11 272.57 L559.89 272.86 L561.67 273.16 L563.45 273.46 L565.23 273.75 L567.01 274.04 L568.78 274.33 L570.56 274.62 L572.34 274.91 L574.12 275.19 L575.9 275.48 L577.68 275.76 L579.45 276.04 L581.23 276.32 L583.01 276.6 L584.79 276.88 L586.57 277.15 L588.34 277.43 L590.12 277.7 L591.9 277.97 L593.68 278.24 L595.46 278.5 L597.24 278.77 L599.01 279.03 L600.79 279.29 L602.57 279.55 L604.35 279.81 L606.13 280.07 L607.91 280.32 L609.68 280.58 L611.46 280.83 L613.24 281.08 L615.02 281.32 L616.8 281.57 L618.58 281.81 L620.35 282.05 L622.13 282.29 L623.91 282.53 L625.69 282.77 L627.47 283 L629.24 283.23 L631.02 283.46 L632.8 283.69 L634.58 283.91 L636.36 284.14 L638.14 284.36 L639.91 284.58 L641.69 284.8 L643.47 285.01 L645.25 285.23 L647.03 285.44 L648.81 285.65 L650.58 285.85 L652.36 286.06 L654.14 286.26 L655.92 286.46 L657.7 286.66 L659.47 286.85 L661.25 287.05 L663.03 287.24 L664.81 287.43 L666.59 287.62 L668.37 287.8 L670.14 287.98 L671.92 288.16 L673.7 288.34 L675.48 288.52 L677.26 288.69 L679.04 288.86 L680.81 289.03 L682.59 289.19 L684.37 289.36 L686.15 289.52 L687.93 289.68 L689.7 289.84 L691.48 289.99 L693.26 290.14 L695.04 290.29 L696.82 290.44 L698.6 290.58 L700.37 290.72 L702.15 290.86 L703.93 291 L705.71 291.14 L707.49 291.27 L709.27 291.4 L711.04 291.53 L712.82 291.65 L714.6 291.77 L716.38 291.89 L718.16 292.01 L719.94 292.12 L721.71 292.24 L723.49 292.35 L725.27 292.45 L727.05 292.56 L728.83 292.66 L730.6 292.76 L732.38 292.86 L734.16 292.95 L735.94 293.04 L737.72 293.13 L739.5 293.22 L741.27 293.3 L743.05 293.38 L744.83 293.46 L746.61 293.54 L748.39 293.61 L750.17 293.68 L751.94 293.75 L753.72 293.81 L755.5 293.88 L757.28 293.94 L759.06 293.99 L760.84 294.05 L762.61 294.1 L764.39 294.15 L766.17 294.2 L767.95 294.24 L769.73 294.28 L771.5 294.32 L773.28 294.36 L775.06 294.39 L776.84 294.42 L778.62 294.45 L780.4 294.48 L782.17 294.5 L783.95 294.52 L785.73 294.54 L787.51 294.55 L789.29 294.56 L791.07 294.57 L792.84 294.58 L794.62 294.58 L796.4 294.59" stroke="#ff0000" stroke-width="2.7" stroke-dasharray="3 6.85 14 8.02"/>
<path d="M85.1 230.07 L86.88 230.08 L88.66 230.08 L90.43 230.08 L92.21 230.08 L93.99 230.09 L95.77 230.1 L97.55 230.11 L99.33 230.12 L101.1 230.13 L102.88 230.14 L104.66 230.15 L106.44 230.17 L108.22 230.18 L110 230.2 L111.77 230.22 L113.55 230.24 L115.33 230.26 L117.11 230.28 L118.89 230.31 L120.66 230.33 L122.44 230.36 L124.22 230.38 L126 230.41 L127.78 230.44 L129.56 230.47 L131.33 230.51 L133.11 230.54 L134.89 230.58 L136.67 230.61 L138.45 230.65 L140.23 230.69 L142 230.73 L143.78 230.77 L145.56 230.81 L147.34 230.86 L149.12 230.9 L150.9 230.95 L152.67 230.99 L154.45 231.04 L156.23 231.09 L158.01 231.14 L159.79 231.2 L161.56 231.25 L163.34 231.31 L165.12 231.36 L166.9 231.42 L168.68 231.48 L170.46 231.54 L172.23 231.6 L174.01 231.66 L175.79 231.72 L177.57 231.79 L179.35 231.85 L181.13 231.92 L182.9 231.99 L184.68 232.06 L186.46 232.13 L188.24 232.2 L190.02 232.27 L191.79 232.34 L193.57 232.42 L195.35 232.49 L197.13 232.57 L198.91 232.65 L200.69 232.73 L202.46 232.81 L204.24 232.89 L206.02 232.97 L207.8 233.06 L209.58 233.14 L211.36 233.23 L213.13 233.31 L214.91 233.4 L216.69 233.49 L218.47 233.58 L220.25 233.67 L222.03 233.77 L223.8 233.86 L225.58 233.95 L227.36 234.05 L229.14 234.15 L230.92 234.24 L232.69 234.34 L234.47 234.44 L236.25 234.54 L238.03 234.65 L239.81 234.75 L241.59 234.85 L243.36 234.96 L245.14 235.06 L246.92 235.17 L248.7 235.28 L250.48 235.39 L252.26 235.49 L254.03 235.61 L255.81 235.72 L257.59 235.83 L259.37 235.94 L261.15 236.06 L262.92 236.17 L264.7 236.29 L266.48 236.4 L268.26 236.52 L270.04 236.64 L271.82 236.76 L273.59 236.88 L275.37 237 L277.15 237.13 L278.93 237.25 L280.71 237.37 L282.49 237.5 L284.26 237.62 L286.04 237.75 L287.82 237.88 L289.6 238 L291.38 238.13 L293.16 238.26 L294.93 238.39 L296.71 238.52 L298.49 238.66 L300.27 238.79 L302.05 238.92 L303.82 239.06 L305.6 239.19 L307.38 239.33 L309.16 239.46 L310.94 239.6 L312.72 239.74 L314.49 239.88 L316.27 240.02 L318.05 240.16 L319.83 240.3 L321.61 240.44 L323.39 240.58 L325.16 240.72 L326.94 240.86 L328.72 241.01 L330.5 241.15 L332.28 241.3 L334.05 241.44 L335.83 241.59 L337.61 241.74 L339.39 241.88 L341.17 242.03 L342.95 242.18 L344.72 242.33 L346.5 242.48 L348.28 242.63 L350.06 242.78 L351.84 242.93 L353.62 243.08 L355.39 243.23 L357.17 243.38 L358.95 243.54 L360.73 243.69 L362.51 243.84 L364.29 244 L366.06 244.15 L367.84 244.31 L369.62 244.46 L371.4 244.62 L373.18 244.77 L374.95 244.93 L376.73 245.09 L378.51 245.25 L380.29 245.4 L382.07 245.56 L383.85 245.72 L385.62 245.88 L387.4 246.04 L389.18 246.2 L390.96 246.36 L392.74 246.52 L394.52 246.68 L396.29 246.84 L398.07 247 L399.85 247.16 L401.63 247.32 L403.41 247.48 L405.18 247.64 L406.96 247.8 L408.74 247.96 L410.52 248.13 L412.3 248.29 L414.08 248.45 L415.85 248.61 L417.63 248.78 L419.41 248.94 L421.19 249.1 L422.97 249.27 L424.75 249.43 L426.52 249.59 L428.3 249.76 L430.08 249.92 L431.86 250.08 L433.64 250.25 L435.42 250.41 L437.19 250.57 L438.97 250.74 L440.75 250.9 L442.53 251.06 L444.31 251.23 L446.08 251.39 L447.86 251.55 L449.64 251.72 L451.42 251.88 L453.2 252.04 L454.98 252.21 L456.75 252.37 L458.53 252.53 L460.31 252.7 L462.09 252.86 L463.87 253.02 L465.65 253.19 L467.42 253.35 L469.2 253.51 L470.98 253.67 L472.76 253.84 L474.54 254 L476.31 254.16 L478.09 254.32 L479.87 254.48 L481.65 254.64 L483.43 254.8 L485.21 254.96 L486.98 255.12 L488.76 255.28 L490.54 255.44 L492.32 255.6 L494.1 255.76 L495.88 255.92 L497.65 256.08 L499.43 256.24 L501.21 256.4 L502.99 256.55 L504.77 256.71 L506.55 256.87 L508.32 257.03 L510.1 257.18 L511.88 257.34 L513.66 257.49 L515.44 257.65 L517.21 257.8 L518.99 257.96 L520.77 258.11 L522.55 258.26 L524.33 258.42 L526.11 258.57 L527.88 258.72 L529.66 258.87 L531.44 259.02 L533.22 259.17 L535 259.32 L536.78 259.47 L538.55 259.62 L540.33 259.77 L542.11 259.92 L543.89 260.06 L545.67 260.21 L547.44 260.36 L549.22 260.5 L551 260.65 L552.78 260.79 L554.56 260.94 L556.34 261.08 L558.11 261.22 L559.89 261.36 L561.67 261.5 L563.45 261.64 L565.23 261.78 L567.01 261.92 L568.78 262.06 L570.56 262.2 L572.34 262.34 L574.12 262.47 L575.9 262.61 L577.68 262.74 L579.45 262.88 L581.23 263.01 L583.01 263.14 L584.79 263.28 L586.57 263.41 L588.34 263.54 L590.12 263.67 L591.9 263.8 L593.68 263.92 L595.46 264.05 L597.24 264.18 L599.01 264.3 L600.79 264.43 L602.57 264.55 L604.35 264.67 L606.13 264.8 L607.91 264.92 L609.68 265.04 L611.46 265.16 L613.24 265.28 L615.02 265.4 L616.8 265.51 L618.58 265.63 L620.35 265.74 L622.13 265.86 L623.91 265.97 L625.69 266.08 L627.47 266.19 L629.24 266.31 L631.02 266.41 L632.8 266.52 L634.58 266.63 L636.36 266.74 L638.14 266.84 L639.91 266.95 L641.69 267.05 L643.47 267.15 L645.25 267.26 L647.03 267.36 L648.81 267.46 L650.58 267.56 L652.36 267.65 L654.14 267.75 L655.92 267.85 L657.7 267.94 L659.47 268.03 L661.25 268.13 L663.03 268.22 L664.81 268.31 L666.59 268.4 L668.37 268.49 L670.14 268.57 L671.92 268.66 L673.7 268.74 L675.48 268.83 L677.26 268.91 L679.04 268.99 L680.81 269.07 L682.59 269.15 L684.37 269.23 L686.15 269.31 L687.93 269.38 L689.7 269.46 L691.48 269.53 L693.26 269.6 L695.04 269.67 L696.82 269.74 L698.6 269.81 L700.37 269.88 L702.15 269.95 L703.93 270.01 L705.71 270.08 L707.49 270.14 L709.27 270.2 L711.04 270.26 L712.82 270.32 L714.6 270.38 L716.38 270.44 L718.16 270.49 L719.94 270.55 L721.71 270.6 L723.49 270.66 L725.27 270.71 L727.05 270.76 L728.83 270.81 L730.6 270.85 L732.38 270.9 L734.16 270.94 L735.94 270.99 L737.72 271.03 L739.5 271.07 L741.27 271.11 L743.05 271.15 L744.83 271.19 L746.61 271.22 L748.39 271.26 L750.17 271.29 L751.94 271.33 L753.72 271.36 L755.5 271.39 L757.28 271.42 L759.06 271.44 L760.84 271.47 L762.61 271.49 L764.39 271.52 L766.17 271.54 L767.95 271.56 L769.73 271.58 L771.5 271.6 L773.28 271.62 L775.06 271.63 L776.84 271.65 L778.62 271.66 L780.4 271.67 L782.17 271.68 L783.95 271.69 L785.73 271.7 L787.51 271.71 L789.29 271.72 L791.07 271.72 L792.84 271.72 L794.62 271.72 L796.4 271.73" stroke="#5c10b8" stroke-width="2.7" stroke-dasharray="13.4 7.86"/>
<path d="M80.6 52.01a4.5 4.5 0 1 0 9 0a4.5 4.5 0 1 0 -9 0zM87.71 52.1a4.5 4.5 0 1 0 9 0a4.5 4.5 0 1 0 -9 0zM94.83 52.38a4.5 4.5 0 1 0 9 0a4.5 4.5 0 1 0 -9 0zM101.94 52.84a4.5 4.5 0 1 0 9 0a4.5 4.5 0 1 0 -9 0zM109.05 53.48a4.5 4.5 0 1 0 9 0a4.5 4.5 0 1 0 -9 0zM116.16 54.31a4.5 4.5 0 1 0 9 0a4.5 4.5 0 1 0 -9 0zM123.28 55.32a4.5 4.5 0 1 0 9 0a4.5 4.5 0 1 0 -9 0zM130.39 56.52a4.5 4.5 0 1 0 9 0a4.5 4.5 0 1 0 -9 0zM137.5 57.9a4.5 4.5 0 1 0 9 0a4.5 4.5 0 1 0 -9 0zM144.62 59.46a4.5 4.5 0 1 0 9 0a4.5 4.5 0 1 0 -9 0zM151.73 61.2a4.5 4.5 0 1 0 9 0a4.5 4.5 0 1 0 -9 0zM158.84 63.12a4.5 4.5 0 1 0 9 0a4.5 4.5 0 1 0 -9 0zM165.96 65.22a4.5 4.5 0 1 0 9 0a4.5 4.5 0 1 0 -9 0zM173.07 67.5a4.5 4.5 0 1 0 9 0a4.5 4.5 0 1 0 -9 0zM180.18 69.96a4.5 4.5 0 1 0 9 0a4.5 4.5 0 1 0 -9 0zM187.29 72.59a4.5 4.5 0 1 0 9 0a4.5 4.5 0 1 0 -9 0zM194.41 75.4a4.5 4.5 0 1 0 9 0a4.5 4.5 0 1 0 -9 0zM201.52 78.37a4.5 4.5 0 1 0 9 0a4.5 4.5 0 1 0 -9 0zM208.63 81.52a4.5 4.5 0 1 0 9 0a4.5 4.5 0 1 0 -9 0zM215.75 84.84a4.5 4.5 0 1 0 9 0a4.5 4.5 0 1 0 -9 0zM222.86 88.32a4.5 4.5 0 1 0 9 0a4.5 4.5 0 1 0 -9 0zM229.97 91.96a4.5 4.5 0 1 0 9 0a4.5 4.5 0 1 0 -9 0zM237.09 95.77a4.5 4.5 0 1 0 9 0a4.5 4.5 0 1 0 -9 0zM244.2 99.74a4.5 4.5 0 1 0 9 0a4.5 4.5 0 1 0 -9 0zM251.31 103.86a4.5 4.5 0 1 0 9 0a4.5 4.5 0 1 0 -9 0zM258.42 108.13a4.5 4.5 0 1 0 9 0a4.5 4.5 0 1 0 -9 0zM265.54 112.55a4.5 4.5 0 1 0 9 0a4.5 4.5 0 1 0 -9 0zM272.65 117.12a4.5 4.5 0 1 0 9 0a4.5 4.5 0 1 0 -9 0zM279.76 121.83a4.5 4.5 0 1 0 9 0a4.5 4.5 0 1 0 -9 0zM286.88 126.68a4.5 4.5 0 1 0 9 0a4.5 4.5 0 1 0 -9 0zM293.99 131.66a4.5 4.5 0 1 0 9 0a4.5 4.5 0 1 0 -9 0zM301.1 136.77a4.5 4.5 0 1 0 9 0a4.5 4.5 0 1 0 -9 0zM308.22 142.01a4.5 4.5 0 1 0 9 0a4.5 4.5 0 1 0 -9 0zM315.33 147.36a4.5 4.5 0 1 0 9 0a4.5 4.5 0 1 0 -9 0zM322.44 152.83a4.5 4.5 0 1 0 9 0a4.5 4.5 0 1 0 -9 0zM329.55 158.41a4.5 4.5 0 1 0 9 0a4.5 4.5 0 1 0 -9 0zM336.67 164.09a4.5 4.5 0 1 0 9 0a4.5 4.5 0 1 0 -9 0zM343.78 169.87a4.5 4.5 0 1 0 9 0a4.5 4.5 0 1 0 -9 0zM350.89 175.74a4.5 4.5 0 1 0 9 0a4.5 4.5 0 1 0 -9 0zM358.01 181.7a4.5 4.5 0 1 0 9 0a4.5 4.5 0 1 0 -9 0zM365.12 187.73a4.5 4.5 0 1 0 9 0a4.5 4.5 0 1 0 -9 0zM372.23 193.84a4.5 4.5 0 1 0 9 0a4.5 4.5 0 1 0 -9 0zM379.35 200.01a4.5 4.5 0 1 0 9 0a4.5 4.5 0 1 0 -9 0zM386.46 206.24a4.5 4.5 0 1 0 9 0a4.5 4.5 0 1 0 -9 0zM393.57 212.52a4.5 4.5 0 1 0 9 0a4.5 4.5 0 1 0 -9 0zM400.68 218.85a4.5 4.5 0 1 0 9 0a4.5 4.5 0 1 0 -9 0zM407.8 225.22a4.5 4.5 0 1 0 9 0a4.5 4.5 0 1 0 -9 0zM414.91 231.61a4.5 4.5 0 1 0 9 0a4.5 4.5 0 1 0 -9 0zM422.02 238.03a4.5 4.5 0 1 0 9 0a4.5 4.5 0 1 0 -9 0zM429.14 244.46a4.5 4.5 0 1 0 9 0a4.5 4.5 0 1 0 -9 0zM436.25 250.9a4.5 4.5 0 1 0 9 0a4.5 4.5 0 1 0 -9 0zM443.36 257.34a4.5 4.5 0 1 0 9 0a4.5 4.5 0 1 0 -9 0zM450.48 263.77a4.5 4.5 0 1 0 9 0a4.5 4.5 0 1 0 -9 0zM457.59 270.19a4.5 4.5 0 1 0 9 0a4.5 4.5 0 1 0 -9 0zM464.7 276.58a4.5 4.5 0 1 0 9 0a4.5 4.5 0 1 0 -9 0zM471.81 282.95a4.5 4.5 0 1 0 9 0a4.5 4.5 0 1 0 -9 0zM478.93 289.28a4.5 4.5 0 1 0 9 0a4.5 4.5 0 1 0 -9 0zM486.04 295.56a4.5 4.5 0 1 0 9 0a4.5 4.5 0 1 0 -9 0zM493.15 301.79a4.5 4.5 0 1 0 9 0a4.5 4.5 0 1 0 -9 0zM500.27 307.96a4.5 4.5 0 1 0 9 0a4.5 4.5 0 1 0 -9 0zM507.38 314.07a4.5 4.5 0 1 0 9 0a4.5 4.5 0 1 0 -9 0zM514.49 320.1a4.5 4.5 0 1 0 9 0a4.5 4.5 0 1 0 -9 0zM521.61 326.06a4.5 4.5 0 1 0 9 0a4.5 4.5 0 1 0 -9 0zM528.72 331.93a4.5 4.5 0 1 0 9 0a4.5 4.5 0 1 0 -9 0zM535.83 337.71a4.5 4.5 0 1 0 9 0a4.5 4.5 0 1 0 -9 0zM542.94 343.39a4.5 4.5 0 1 0 9 0a4.5 4.5 0 1 0 -9 0zM550.06 348.97a4.5 4.5 0 1 0 9 0a4.5 4.5 0 1 0 -9 0zM557.17 354.44a4.5 4.5 0 1 0 9 0a4.5 4.5 0 1 0 -9 0zM564.28 359.79a4.5 4.5 0 1 0 9 0a4.5 4.5 0 1 0 -9 0zM571.4 365.03a4.5 4.5 0 1 0 9 0a4.5 4.5 0 1 0 -9 0zM578.51 370.14a4.5 4.5 0 1 0 9 0a4.5 4.5 0 1 0 -9 0zM585.62 375.12a4.5 4.5 0 1 0 9 0a4.5 4.5 0 1 0 -9 0zM592.74 379.97a4.5 4.5 0 1 0 9 0a4.5 4.5 0 1 0 -9 0zM599.85 384.68a4.5 4.5 0 1 0 9 0a4.5 4.5 0 1 0 -9 0zM606.96 389.25a4.5 4.5 0 1 0 9 0a4.5 4.5 0 1 0 -9 0zM614.08 393.67a4.5 4.5 0 1 0 9 0a4.5 4.5 0 1 0 -9 0zM621.19 397.94a4.5 4.5 0 1 0 9 0a4.5 4.5 0 1 0 -9 0zM628.3 402.06a4.5 4.5 0 1 0 9 0a4.5 4.5 0 1 0 -9 0zM635.41 406.03a4.5 4.5 0 1 0 9 0a4.5 4.5 0 1 0 -9 0zM642.53 409.84a4.5 4.5 0 1 0 9 0a4.5 4.5 0 1 0 -9 0zM649.64 413.48a4.5 4.5 0 1 0 9 0a4.5 4.5 0 1 0 -9 0zM656.75 416.96a4.5 4.5 0 1 0 9 0a4.5 4.5 0 1 0 -9 0zM663.87 420.28a4.5 4.5 0 1 0 9 0a4.5 4.5 0 1 0 -9 0zM670.98 423.43a4.5 4.5 0 1 0 9 0a4.5 4.5 0 1 0 -9 0zM678.09 426.4a4.5 4.5 0 1 0 9 0a4.5 4.5 0 1 0 -9 0zM685.2 429.21a4.5 4.5 0 1 0 9 0a4.5 4.5 0 1 0 -9 0zM692.32 431.84a4.5 4.5 0 1 0 9 0a4.5 4.5 0 1 0 -9 0zM699.43 434.3a4.5 4.5 0 1 0 9 0a4.5 4.5 0 1 0 -9 0zM706.54 436.58a4.5 4.5 0 1 0 9 0a4.5 4.5 0 1 0 -9 0zM713.66 438.68a4.5 4.5 0 1 0 9 0a4.5 4.5 0 1 0 -9 0zM720.77 440.6a4.5 4.5 0 1 0 9 0a4.5 4.5 0 1 0 -9 0zM727.88 442.34a4.5 4.5 0 1 0 9 0a4.5 4.5 0 1 0 -9 0zM735 443.9a4.5 4.5 0 1 0 9 0a4.5 4.5 0 1 0 -9 0zM742.11 445.28a4.5 4.5 0 1 0 9 0a4.5 4.5 0 1 0 -9 0zM749.22 446.48a4.5 4.5 0 1 0 9 0a4.5 4.5 0 1 0 -9 0zM756.34 447.49a4.5 4.5 0 1 0 9 0a4.5 4.5 0 1 0 -9 0zM763.45 448.32a4.5 4.5 0 1 0 9 0a4.5 4.5 0 1 0 -9 0zM770.56 448.96a4.5 4.5 0 1 0 9 0a4.5 4.5 0 1 0 -9 0zM777.67 449.42a4.5 4.5 0 1 0 9 0a4.5 4.5 0 1 0 -9 0zM784.79 449.7a4.5 4.5 0 1 0 9 0a4.5 4.5 0 1 0 -9 0z" stroke="#000" stroke-width="2.4"/>
</g>
<g stroke="#000" fill="none">
<rect x="85.1" y="1.7" width="711.3" height="498" stroke-width="1.5"/>
<path d="M85.1 499.7v-7.4M174.01 499.7v-3.7M262.92 499.7v-7.4M351.84 499.7v-3.7M440.75 499.7v-7.4M529.66 499.7v-3.7M618.57 499.7v-7.4M707.49 499.7v-3.7M796.4 499.7v-7.4M85.1 452.5h3.7M85.1 385.3h7.4M85.1 318.1h3.7M85.1 250.9h7.4M85.1 183.7h3.7M85.1 116.5h7.4M85.1 49.3h3.7" stroke-width="1"/>
</g>
<text x="78" y="395.1" font-size="29" text-anchor="end">0.4</text>
<text x="78" y="260.7" font-size="29" text-anchor="end">0.5</text>
<text x="78" y="126.3" font-size="29" text-anchor="end">0.6</text>
<text x="85.1" y="527.4" font-size="29" text-anchor="middle">0</text>
<text x="263.37" y="527.4" font-size="29" text-anchor="middle" letter-spacing="0.9">π/4</text>
<text x="441.2" y="527.4" font-size="29" text-anchor="middle" letter-spacing="0.9">π/2</text>
<text x="619.02" y="527.4" font-size="29" text-anchor="middle" letter-spacing="0.9">3π/2</text>
<text x="797.2" y="522.5" font-size="29" text-anchor="middle">π</text>
<text class="i" x="440.5" y="564" font-size="29" text-anchor="middle">k</text>
<text class="i" transform="translate(20 289.8) rotate(-90)" font-size="29.6">(m<tspan font-size="21.5" dy="12">k</tspan><tspan dy="-12" dx="3.6">)</tspan><tspan font-size="20.6" dy="12" dx="-1">14</tspan></text>
<text class="i" x="329.6" y="58.2" font-size="29.8">T<tspan font-size="20.6" dy="11.8">I</tspan><tspan dy="-11.8">=2.0</tspan></text>
<text class="i" x="160" y="318.2" font-size="28.6">DE</text>
<text class="i" x="281.6" y="318.2" font-size="28.6">GE</text>
<text class="i" x="155.3" y="347.9" font-size="24.6">h=0.6</text>
<text class="i" x="285.3" y="347.9" font-size="24.6">h=0.6</text>
<text class="i" x="155.3" y="372.1" font-size="24.6">h=1.0</text>
<text class="i" x="285.3" y="372.1" font-size="24.6">h=1.0</text>
<text class="i" x="155.3" y="396.3" font-size="24.6">h=4.0</text>
<text class="i" x="285.3" y="396.3" font-size="24.6">h=4.0</text>
<text class="i" x="155.3" y="420.5" font-size="24.6">h=6.0</text>
<text class="i" x="285.3" y="420.5" font-size="24.6">h=6.0</text>
<text class="i" x="224" y="464.5" font-size="24.6">Initial</text>
<g fill="none">
<rect x="127.8" y="335.6" width="8.8" height="8.8" stroke="#008a00" stroke-width="1.9"/>
<path d="M132.2 358.86L137 367.17L127.4 367.17z" stroke="#0000ff" stroke-width="1.9"/>
<path d="M132.2 383.6l5.4 5.4l-5.4 5.4l-5.4 -5.4z" stroke="#ff0000" stroke-width="1.9"/>
<path d="M127.3 413.2h9.8M132.2 408.3v9.8" stroke="#5c10b8" stroke-width="1.9"/>
<circle cx="201.9" cy="455.7" r="4.4" stroke="#000" stroke-width="2.4"/>
<path d="M245.9 340.9h28.5" stroke="#008a00" stroke-width="2.7"/>
<path d="M245.9 365.3h28.5" stroke="#0000ff" stroke-width="2.7"/>
<path d="M245.9 389.5h28.5" stroke="#ff0000" stroke-width="2.7" stroke-dasharray="2.8 7.7 13.4 10"/>
<path d="M245.9 413.9h28.5" stroke="#5c10b8" stroke-width="2.7" stroke-dasharray="13.1 7.8"/>
</g>
<g fill="none">
<path d="M521.38 205.1 L524.54 199.9 L527.71 194.7 L530.87 189.5 L534.03 183.5 L537.19 176.4 L540.35 168.6 L543.51 161.3 L559.32 121.8 L575.12 85.9 L590.93 75.8 L606.73 91.6 L622.54 104.9 L638.34 109.4 L669.96 109.7 L701.57 109.5 L733.18 109.1 L764.79 108.8 L796.4 108.4" stroke="#ff0000" stroke-width="2.2" stroke-linejoin="round"/>
<path d="M516.28 205.1a5.1 5.1 0 1 0 10.2 0a5.1 5.1 0 1 0 -10.2 0zM519.44 199.9a5.1 5.1 0 1 0 10.2 0a5.1 5.1 0 1 0 -10.2 0zM522.61 194.7a5.1 5.1 0 1 0 10.2 0a5.1 5.1 0 1 0 -10.2 0zM525.77 189.5a5.1 5.1 0 1 0 10.2 0a5.1 5.1 0 1 0 -10.2 0zM528.93 183.5a5.1 5.1 0 1 0 10.2 0a5.1 5.1 0 1 0 -10.2 0zM532.09 176.4a5.1 5.1 0 1 0 10.2 0a5.1 5.1 0 1 0 -10.2 0zM535.25 168.6a5.1 5.1 0 1 0 10.2 0a5.1 5.1 0 1 0 -10.2 0zM538.41 161.3a5.1 5.1 0 1 0 10.2 0a5.1 5.1 0 1 0 -10.2 0zM554.22 121.8a5.1 5.1 0 1 0 10.2 0a5.1 5.1 0 1 0 -10.2 0zM570.02 85.9a5.1 5.1 0 1 0 10.2 0a5.1 5.1 0 1 0 -10.2 0zM585.83 75.8a5.1 5.1 0 1 0 10.2 0a5.1 5.1 0 1 0 -10.2 0zM601.63 91.6a5.1 5.1 0 1 0 10.2 0a5.1 5.1 0 1 0 -10.2 0zM617.44 104.9a5.1 5.1 0 1 0 10.2 0a5.1 5.1 0 1 0 -10.2 0zM633.24 109.4a5.1 5.1 0 1 0 10.2 0a5.1 5.1 0 1 0 -10.2 0zM664.86 109.7a5.1 5.1 0 1 0 10.2 0a5.1 5.1 0 1 0 -10.2 0zM696.47 109.5a5.1 5.1 0 1 0 10.2 0a5.1 5.1 0 1 0 -10.2 0zM728.08 109.1a5.1 5.1 0 1 0 10.2 0a5.1 5.1 0 1 0 -10.2 0zM759.69 108.8a5.1 5.1 0 1 0 10.2 0a5.1 5.1 0 1 0 -10.2 0zM791.3 108.4a5.1 5.1 0 1 0 10.2 0a5.1 5.1 0 1 0 -10.2 0z" stroke="#ff0000" stroke-width="1.2"/>
<path d="M521.38 203.8 L524.54 199.3 L527.71 194.5 L530.87 189.6 L534.03 183.8 L537.19 177 L540.35 169.2 L543.51 162 L559.32 124.8 L575.12 94.3 L590.93 71.7 L606.73 55.5 L622.54 43.9 L638.34 36 L669.96 24.5 L701.57 17.9 L733.18 13.7 L764.79 10.8 L796.4 9.4" stroke="#0000ff" stroke-width="1.7" stroke-linejoin="round"/>
<path d="M516.58 199h9.6v9.6h-9.6zM519.74 194.5h9.6v9.6h-9.6zM522.91 189.7h9.6v9.6h-9.6zM526.07 184.8h9.6v9.6h-9.6zM529.23 179h9.6v9.6h-9.6zM532.39 172.2h9.6v9.6h-9.6zM535.55 164.4h9.6v9.6h-9.6zM538.71 157.2h9.6v9.6h-9.6zM554.52 120h9.6v9.6h-9.6zM570.32 89.5h9.6v9.6h-9.6zM586.13 66.9h9.6v9.6h-9.6zM601.93 50.7h9.6v9.6h-9.6zM617.74 39.1h9.6v9.6h-9.6zM633.54 31.2h9.6v9.6h-9.6zM665.16 19.7h9.6v9.6h-9.6zM696.77 13.1h9.6v9.6h-9.6zM728.38 8.9h9.6v9.6h-9.6zM759.99 6h9.6v9.6h-9.6zM791.6 4.6h9.6v9.6h-9.6z" stroke="#0000ff" stroke-width="1.2"/>
<path d="M528.7 22.6H550.8" stroke="#ff0000" stroke-width="2.2"/>
<path d="M523.6 22.6a5.1 5.1 0 1 0 10.2 0a5.1 5.1 0 1 0 -10.2 0zM545.7 22.6a5.1 5.1 0 1 0 10.2 0a5.1 5.1 0 1 0 -10.2 0z" stroke="#ff0000" stroke-width="1.2"/>
<path d="M528.7 42.9H550.8" stroke="#0000ff" stroke-width="1.7"/>
<path d="M523.9 38.1h9.6v9.6h-9.6zM546 38.1h9.6v9.6h-9.6z" stroke="#0000ff" stroke-width="1.2"/>
</g>
<g stroke="#000" fill="none">
<path d="M511.9 1.7V207.7H796.4" stroke-width="1.5"/>
<path d="M543.51 207.7v-6.8M543.51 1.7v6.8M575.12 207.7v-13.5M575.12 1.7v13.5M606.73 207.7v-6.8M606.73 1.7v6.8M638.34 207.7v-13.5M638.34 1.7v13.5M669.96 207.7v-6.8M669.96 1.7v6.8M701.57 207.7v-13.5M701.57 1.7v13.5M733.18 207.7v-6.8M733.18 1.7v6.8M764.79 207.7v-13.5M764.79 1.7v13.5M511.9 27.45h6.8M796.4 27.45h-6.8M511.9 53.2h13.8M796.4 53.2h-13.8M511.9 78.95h6.8M796.4 78.95h-6.8M511.9 104.7h13.8M796.4 104.7h-13.8M511.9 130.45h6.8M796.4 130.45h-6.8M511.9 156.2h13.8M796.4 156.2h-13.8M511.9 181.95h6.8M796.4 181.95h-6.8" stroke-width="1.1"/>
</g>
<text x="505.8" y="61.9" font-size="24.5" text-anchor="end">-0.05</text>
<text x="505.8" y="113.4" font-size="24.5" text-anchor="end">-0.1</text>
<text x="505.8" y="164.9" font-size="24.5" text-anchor="end">-0.15</text>
<text x="505.8" y="216.4" font-size="24.5" text-anchor="end">-0.2</text>
<text x="511.9" y="231.8" font-size="24" text-anchor="middle">0</text>
<text x="575.12" y="231.8" font-size="24" text-anchor="middle">2</text>
<text x="638.34" y="231.8" font-size="24" text-anchor="middle">4</text>
<text x="701.57" y="231.8" font-size="24" text-anchor="middle">6</text>
<text x="764.79" y="231.8" font-size="24" text-anchor="middle">8</text>
<text class="i" x="654.15" y="250.7" font-size="20" text-anchor="middle">h</text>
<text class="i" transform="translate(451.3 125.2) rotate(-90)" font-size="20">(K)<tspan font-size="14.2" dy="7.5">14</tspan></text>
<text x="563.6" y="28.4" font-size="20">DE</text>
<text x="563.6" y="49.1" font-size="20">GE</text>
</svg></body></html>
